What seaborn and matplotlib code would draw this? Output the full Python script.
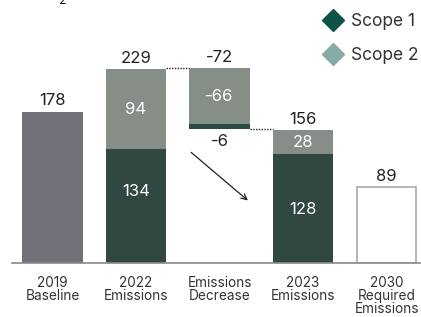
import numpy as np
import pandas as pd
import matplotlib
matplotlib.use("Agg")
import matplotlib.pyplot as plt
from matplotlib.lines import Line2D
import seaborn as sns

# ---- data ----
categories = ["2019\nBaseline", "2022\nEmissions", "Emissions\nDecrease",
              "2023\nEmissions", "2030\nRequired\nEmissions"]
baseline_2019 = 178
required_2030 = 89
scope1 = [134, -6, 128]          # 2022, decrease, 2023
scope2 = [94, -66, 28]
totals = [229, -72, 156]
stack_cats = [categories[1], categories[2], categories[3]]

# ---- style ----
sns.set_theme(style="white")
plt.rcParams["font.family"] = ["Inter", "DejaVu Sans"]
TXT = "#222222"
C_BASE = "#716f79"
C_S1 = "#2e4a44"
C_S2 = "#868f87"
C_L1 = "#0c5246"
C_L2 = "#87aba2"
W = 0.73

fig = plt.figure(figsize=(4.21, 3.17), dpi=100)
ax = fig.add_axes([12 / 421, (317 - 262.5) / 317, 409 / 421, 262.5 / 317])

# baseline bar
sns.barplot(x=[categories[0]], y=[baseline_2019], order=categories, color=C_BASE,
            width=W, linewidth=0, errorbar=None, ax=ax)
# 2030 hollow bar
sns.barplot(x=[categories[4]], y=[required_2030], order=categories,
            facecolor="white", edgecolor="#b0b0b0", linewidth=1.3,
            width=W - 0.015, errorbar=None, ax=ax)
# stacked bars 2022 / 2023: full height in scope-2 colour, scope 1 overlaid
full = [scope1[0] + scope2[0], scope1[2] + scope2[2]]
sns.barplot(x=[stack_cats[0], stack_cats[2]], y=full, order=categories, color=C_S2,
            width=W, linewidth=0, errorbar=None, ax=ax)
sns.barplot(x=[stack_cats[0], stack_cats[2]], y=[scope1[0], scope1[2]], order=categories,
            color=C_S1, width=W, linewidth=0, errorbar=None, ax=ax)

# floating decrease bar
top_2022 = totals[0]
dec_bottom = top_2022 + totals[1]
ax.bar(2, -scope1[1], bottom=dec_bottom, width=W, color=C_S1, linewidth=0)
ax.bar(2, -scope2[1], bottom=dec_bottom - scope1[1], width=W, color=C_S2, linewidth=0)

# connectors
ax.plot([1 + W / 2, 2 - W / 2], [top_2022, top_2022], ls=(0, (1, 1)), color="#222", lw=1)
ax.plot([2 + W / 2, 3 - W / 2], [dec_bottom, dec_bottom], ls=(0, (1, 1)), color="#222", lw=1)

# arrow
ax.annotate("", xy=(2 + W / 2, 71), xytext=(2 - W / 2, 132),
            arrowprops=dict(arrowstyle="->", color="#222", lw=0.9, mutation_scale=10))

# value labels above/below
fs_val = 12
def above(x, y, s, off=3):
    ax.annotate(s, (x, y), xytext=(0, off), textcoords="offset points",
                ha="center", va="bottom", fontsize=fs_val, color=TXT)

above(0, baseline_2019, str(baseline_2019), off=2.5)
above(1, totals[0], str(totals[0]), off=2)
above(2, top_2022, str(totals[1]), off=2.5)
above(3, totals[2], str(totals[2]), off=2.5)
above(4, required_2030, str(required_2030), off=2.5)
ax.annotate(str(scope1[1]), (2, dec_bottom), xytext=(0, -3), textcoords="offset points",
            ha="center", va="top", fontsize=fs_val, color=TXT)

# inside labels
def inside(x, y, s):
    ax.text(x, y, s, ha="center", va="center", fontsize=fs_val, color="white")

inside(1, scope1[0] + scope2[0] / 2, str(scope2[0]))
inside(1, 84, str(scope1[0]))
inside(2, dec_bottom - scope1[1] - scope2[1] / 2, str(scope2[1]))
inside(3, scope1[2] + scope2[2] / 2, str(scope2[2]))
inside(3, scope1[2] / 2 - 2, str(scope1[2]))

# axes
ax.set_xlim(-0.485, 4.413)
ax.set_ylim(0, 262.5 / 0.848)
ax.set_xlabel("")
ax.set_ylabel("")
ax.set_yticks([])
for s in ["top", "right", "left"]:
    ax.spines[s].set_visible(False)
ax.spines["bottom"].set_color("#8a8a8a")
ax.spines["bottom"].set_linewidth(1.2)
ax.tick_params(axis="x", length=0, pad=9.5, labelsize=9.8, colors="#333333")
for lab in ax.get_xticklabels():
    lab.set_linespacing(0.93)

# legend
handles = [Line2D([], [], marker="D", ls="none", color=C_L1, markersize=11),
           Line2D([], [], marker="D", ls="none", color=C_L2, markersize=11)]
leg = ax.legend(handles, ["Scope 1", "Scope 2"], loc="upper right",
                bbox_to_anchor=(1 + 6 / 421, 1 - 4 / 317), bbox_transform=fig.transFigure,
                frameon=False, fontsize=12.5, handletextpad=0.4, labelspacing=1.0,
                borderaxespad=0.1, handlelength=1.2)
for t in leg.get_texts():
    t.set_color("#333333")

# cut-off title fragment at the very top
fig.text(63 / 421, 1 - 3.5 / 317, "2", fontsize=9, color=TXT, va="baseline", ha="center")

fig.savefig("out.png", dpi=100)
